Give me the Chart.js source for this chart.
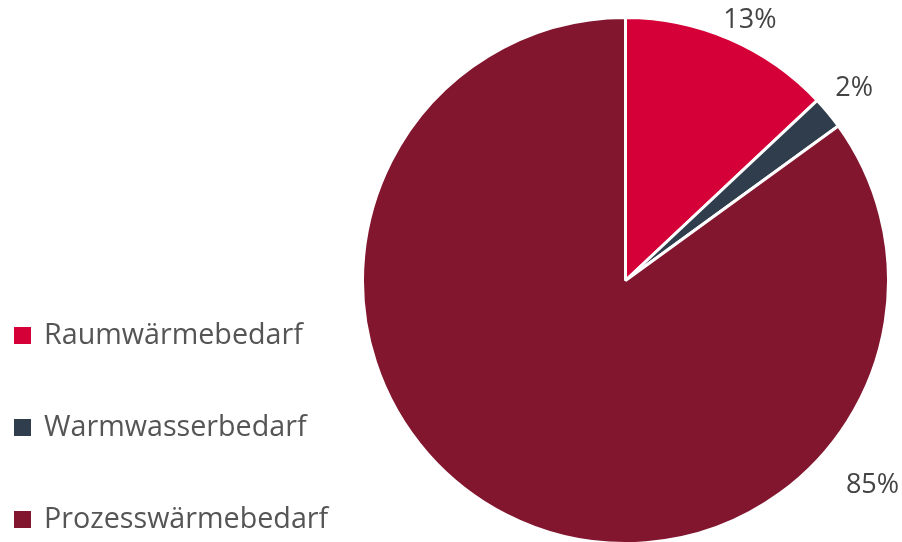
<!DOCTYPE html>
<html><head><meta charset="utf-8">
<script src="https://cdn.jsdelivr.net/npm/chart.js@4"></script>
<style>
html,body{margin:0;padding:0;background:#fff;overflow:hidden;}
#wrap{position:relative;width:902px;height:545px;}
</style></head>
<body><div id="wrap"><canvas id="c"></canvas></div>
<script>
const categories = ["Raumwärmebedarf", "Warmwasserbedarf", "Prozesswärmebedarf"];
const values = [13, 2, 85];
const valueLabels = ["13%", "2%", "85%"];
const colors = ["#D50037", "#2F3D4C", "#82162F"];
// label placement (style): angle in degrees from top, distance beyond outer radius
const labelPlacement = [{a:25.6, d:25}, {a:49.9, d:36}, {a:129.7, d:58}];

const FONT = "'Open Sans', sans-serif";

const outLabels = {
  id: 'outLabels',
  afterDatasetsDraw(chart) {
    const ctx = chart.ctx;
    const meta = chart.getDatasetMeta(0);
    ctx.save();
    ctx.font = "400 27px " + FONT;
    ctx.fillStyle = "#444444";
    ctx.textAlign = "center";
    ctx.textBaseline = "middle";
    meta.data.forEach((arc, i) => {
      const p = labelPlacement[i];
      const r = arc.outerRadius + p.d;
      const ang = (p.a - 90) * Math.PI / 180;
      ctx.fillText(valueLabels[i], arc.x + r * Math.cos(ang), arc.y + r * Math.sin(ang));
    });
    ctx.restore();
  }
};

const sideLegend = {
  id: 'sideLegend',
  afterDraw(chart) {
    const ctx = chart.ctx;
    ctx.save();
    ctx.font = "400 28.7px " + FONT;
    ctx.textBaseline = "middle";
    chart.data.labels.forEach((lab, i) => {
      const cy = 335 + i * 92;
      ctx.fillStyle = chart.data.datasets[0].backgroundColor[i];
      ctx.fillRect(14, cy - 8, 17, 17);
      ctx.fillStyle = "#555555";
      ctx.fillText(lab, 44, cy + 1);
    });
    ctx.restore();
  }
};

new Chart(document.getElementById('c'), {
  type: 'pie',
  data: {
    labels: categories,
    datasets: [{
      data: values,
      backgroundColor: colors,
      borderColor: "#ffffff",
      borderWidth: 3,
      hoverOffset: 0
    }]
  },
  options: {
    responsive: true,
    maintainAspectRatio: false,
    animation: false,
    events: [],
    layout: { padding: { left: 360, right: 11, top: 16, bottom: 0 } },
    plugins: { legend: { display: false }, tooltip: { enabled: false } }
  },
  plugins: [outLabels, sideLegend]
});
</script></body></html>
